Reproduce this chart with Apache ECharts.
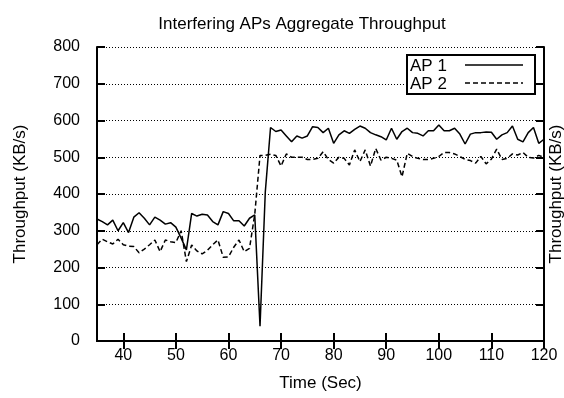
<!DOCTYPE html>
<html>
<head>
<meta charset="utf-8">
<script src="https://cdn.jsdelivr.net/npm/echarts@6/dist/echarts.min.js"></script>
<style>html,body{margin:0;padding:0;background:#fff;}#c{width:564px;height:398px;}</style>
</head>
<body>
<div id="c"></div>
<script>
const titleText = 'Interfering APs Aggregate Throughput';
const xName = 'Time (Sec)';
const yName = 'Throughput (KB/s)';
const xTicks = [40, 50, 60, 70, 80, 90, 100, 110, 120];
const yTicks = [0, 100, 200, 300, 400, 500, 600, 700, 800];
const seriesNames = ['AP 1', 'AP 2'];
const timeSec = [35,36,37,38,39,40,41,42,43,44,45,46,47,48,49,50,51,52,53,54,55,56,57,58,59,60,61,62,63,64,65,66,67,68,69,70,71,72,73,74,75,76,77,78,79,80,81,82,83,84,85,86,87,88,89,90,91,92,93,94,95,96,97,98,99,100,101,102,103,104,105,106,107,108,109,110,111,112,113,114,115,116,117,118,119,120];
const ap1 = [332,325,316,329,300,322,295,337,349,334,316,337,329,318,322,310,280,248,347,340,345,343,325,316,352,347,327,327,313,334,343,40,405,581,570,574,558,542,558,552,558,583,581,567,579,538,561,572,565,576,585,579,567,561,556,547,579,549,570,579,567,565,558,572,572,588,572,572,579,563,536,563,567,567,569,568,549,561,567,585,549,542,567,581,538,549];
const ap2 = [262,277,270,264,277,262,258,257,240,250,262,275,243,275,270,268,300,216,261,245,237,247,262,275,228,229,255,275,243,252,345,505,505,508,505,476,509,500,500,500,494,494,497,515,494,484,500,497,479,520,488,520,476,524,492,500,497,492,447,511,502,497,494,494,497,502,513,513,509,502,494,491,484,502,482,495,522,494,497,509,506,513,500,498,505,500];

const FONT = 'Liberation Sans, Arial, sans-serif';
const chart = echarts.init(document.getElementById('c'), null, {renderer: 'canvas'});
const pair = (xs, ys) => xs.map((x, i) => [x, ys[i]]);
const axisLineStyle = {show: true, lineStyle: {color: '#000', width: 2}};
const tickStyle = {show: true, inside: true, length: 8, lineStyle: {color: '#000', width: 2}};
chart.setOption({
  animation: false,
  backgroundColor: '#fff',
  title: {text: titleText, left: 297, textAlign: 'center', top: 11,
    textStyle: {fontFamily: FONT, fontSize: 17, fontWeight: 'normal', color: '#000'}},
  grid: {left: 97, right: 20, top: 47, bottom: 57, containLabel: false, outerBoundsMode: 'none'},
  xAxis: [{
    type: 'value', min: 35, max: 120, position: 'bottom',
    name: xName, nameLocation: 'middle', nameGap: 34,
    nameTextStyle: {fontFamily: FONT, fontSize: 17, color: '#000'},
    axisLine: axisLineStyle,
    axisTick: Object.assign({customValues: xTicks}, tickStyle),
    axisLabel: {fontFamily: FONT, fontSize: 16, color: '#000', margin: 7, customValues: xTicks},
    splitLine: {show: false}
  }, {
    type: 'value', min: 35, max: 120, position: 'top',
    axisLine: axisLineStyle,
    axisTick: Object.assign({customValues: xTicks}, tickStyle),
    axisLabel: {show: false},
    splitLine: {show: false}
  }],
  yAxis: [{
    type: 'value', min: 0, max: 800, interval: 100, position: 'left',
    name: yName, nameLocation: 'middle', nameGap: 68, nameRotate: 90,
    nameTextStyle: {fontFamily: FONT, fontSize: 17, color: '#000'},
    axisLine: axisLineStyle,
    axisTick: tickStyle,
    axisLabel: {fontFamily: FONT, fontSize: 16, color: '#000', margin: 17, customValues: yTicks},
    splitLine: {show: true, lineStyle: {color: '#000', width: 1, type: [1, 2]}}
  }, {
    type: 'value', min: 0, max: 800, interval: 100, position: 'right',
    name: yName, nameLocation: 'middle', nameGap: 4, nameRotate: 90,
    nameTextStyle: {fontFamily: FONT, fontSize: 17, color: '#000'},
    axisLine: axisLineStyle,
    axisTick: tickStyle,
    axisLabel: {show: false},
    splitLine: {show: false}
  }],
  series: [{
    name: seriesNames[0], type: 'line', data: pair(timeSec, ap1), showSymbol: false,
    lineStyle: {color: '#000', width: 1.5, type: 'solid'}, z: 3
  }, {
    name: seriesNames[1], type: 'line', data: pair(timeSec, ap2), showSymbol: false,
    lineStyle: {color: '#000', width: 1.5, type: [5, 3]}, z: 3
  }],
  graphic: [
    {type: 'rect', shape: {x: 407, y: 55, width: 128, height: 39}, style: {fill: '#fff', stroke: '#000', lineWidth: 2}, z: 10},
    {type: 'text', x: 410, y: 66, style: {text: seriesNames[0], fontFamily: FONT, fontSize: 17, fill: '#000', verticalAlign: 'middle'}, z: 11},
    {type: 'text', x: 410, y: 84, style: {text: seriesNames[1], fontFamily: FONT, fontSize: 17, fill: '#000', verticalAlign: 'middle'}, z: 11},
    {type: 'line', shape: {x1: 465, y1: 65, x2: 523, y2: 65}, style: {stroke: '#000', lineWidth: 1.5}, z: 11},
    {type: 'line', shape: {x1: 465, y1: 83, x2: 523, y2: 83}, style: {stroke: '#000', lineWidth: 1.5, lineDash: [5, 3]}, z: 11}
  ]
});
</script>
</body>
</html>
